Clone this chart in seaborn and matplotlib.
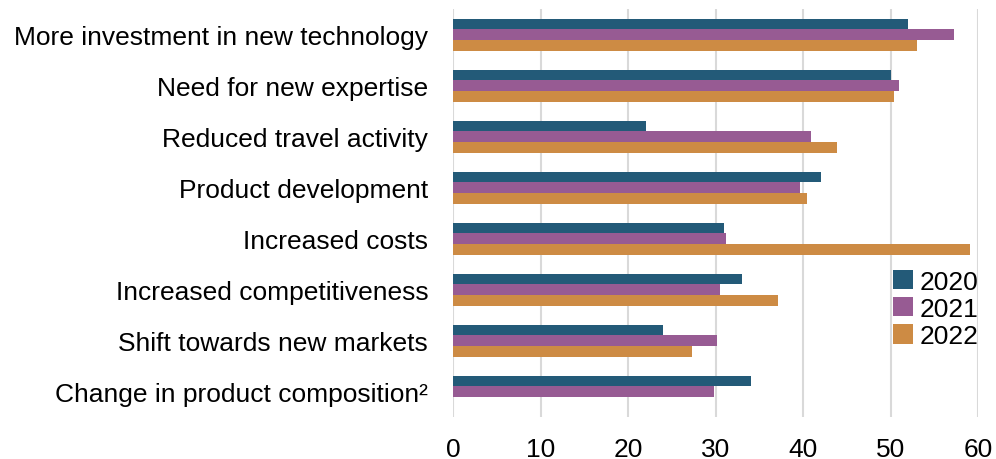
import pandas as pd
import matplotlib.pyplot as plt
import seaborn as sns

categories = [
    'More investment in new technology',
    'Need for new expertise',
    'Reduced travel activity',
    'Product development',
    'Increased costs',
    'Increased competitiveness',
    'Shift towards new markets',
    'Change in product composition\u00b2',
]
years = ['2020', '2021', '2022']
values_2020 = [52.0, 50.1, 22.0, 42.0, 31.0, 33.0, 24.0, 34.0]
values_2021 = [57.2, 51.0, 40.9, 39.6, 31.2, 30.5, 30.2, 29.8]
values_2022 = [53.0, 50.4, 43.9, 40.5, 59.1, 37.1, 27.3, None]
colors = ['#235a78', '#975b93', '#cd8b44']

# long-form table, dropping the missing 2022 value
rows = []
for year, vals in zip(years, [values_2020, values_2021, values_2022]):
    for cat, v in zip(categories, vals):
        if v is not None:
            rows.append({'category': cat, 'year': year, 'share': v})
df = pd.DataFrame(rows)

sns.set_style('white')
plt.rcParams['font.family'] = ['Liberation Sans', 'DejaVu Sans']
plt.rcParams['text.color'] = 'black'
plt.rcParams['xtick.color'] = 'black'
plt.rcParams['ytick.color'] = 'black'

fig = plt.figure(figsize=(9.96, 4.6), dpi=100)
ax = fig.add_axes([0.455, 0.091, 0.527, 0.887])

sns.barplot(data=df, y='category', x='share', hue='year',
            order=categories, hue_order=years, palette=colors,
            saturation=1, linewidth=0,
            width=0.63, orient='h', ax=ax, errorbar=None)

ax.set_xlim(0, 60)
ax.set_xticks(range(0, 61, 10))
ax.set_xlabel('')
ax.set_ylabel('')
ax.grid(axis='x', color='#d9d9d9', linewidth=1.5)
ax.set_axisbelow(True)
for s in ax.spines.values():
    s.set_visible(False)
ax.tick_params(axis='y', length=0, pad=18, labelsize=19)
ax.tick_params(axis='x', length=0, pad=14, labelsize=19)

ax.legend(loc='center right', bbox_to_anchor=(1.0, 0.265), frameon=False,
          fontsize=19, handlelength=0.75, handleheight=0.75,
          handletextpad=0.25, labelspacing=0.12, borderaxespad=0, borderpad=0)

fig.savefig('out.png', dpi=100)
